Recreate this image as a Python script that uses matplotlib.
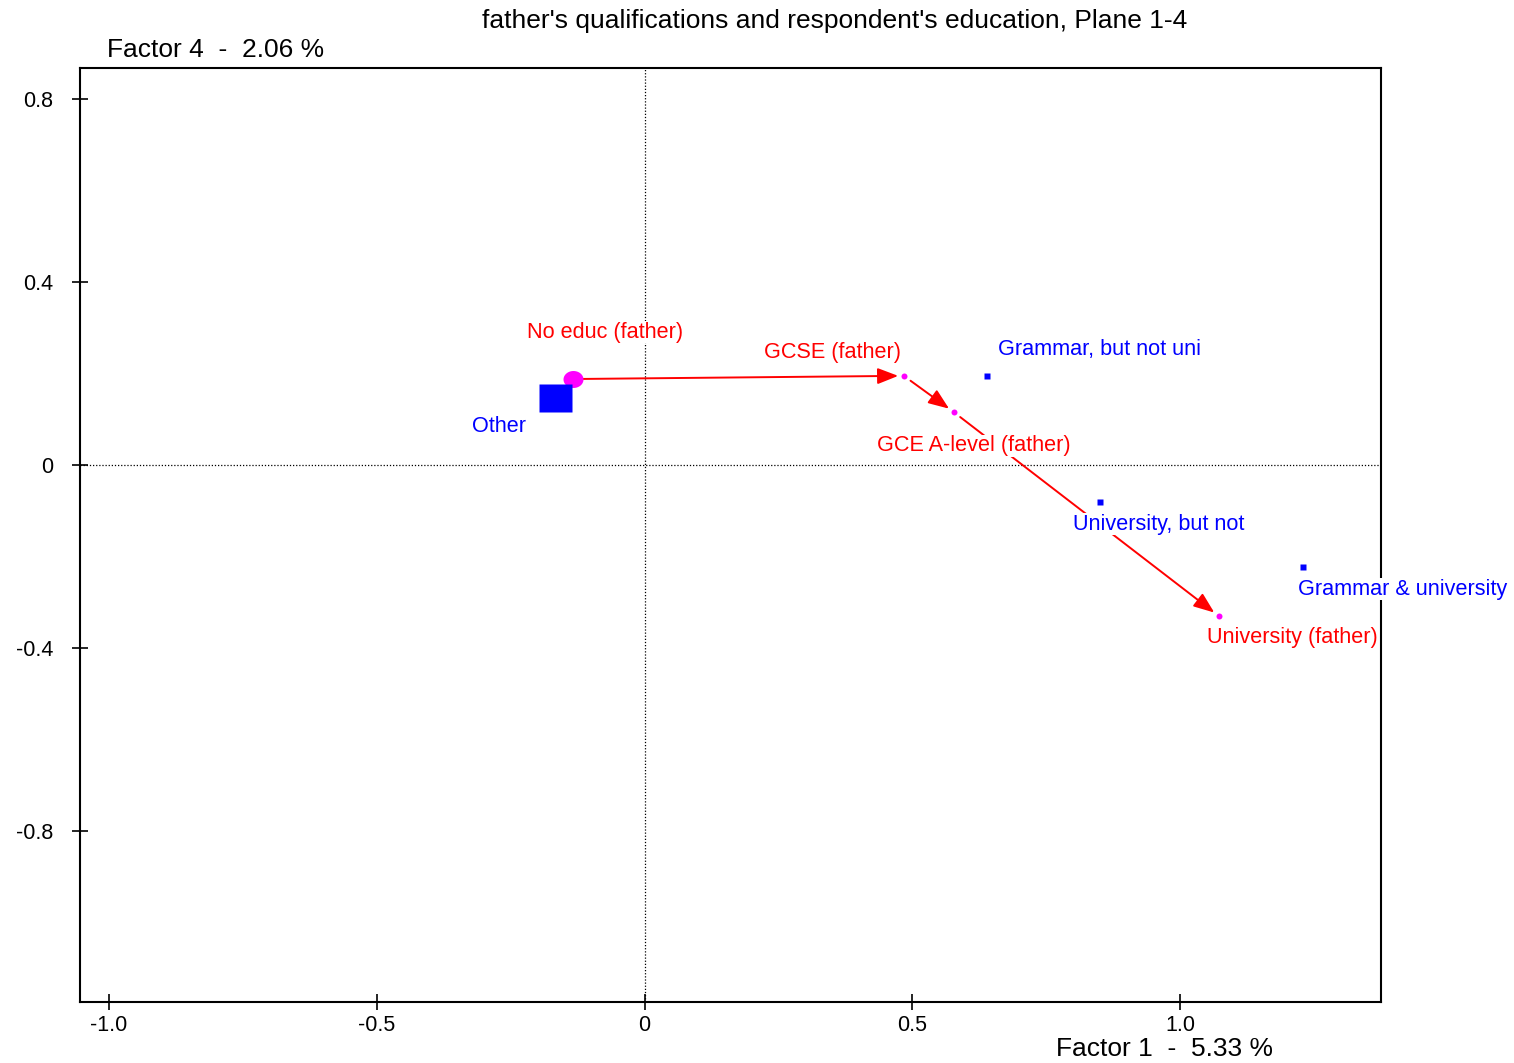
import numpy as np
import matplotlib
matplotlib.use("Agg")
import matplotlib.pyplot as plt

plt.rcParams['font.family'] = ['Liberation Sans', 'DejaVu Sans']

# father's qualifications (active points, joined by the trajectory)
father_labels = ["No educ (father)", "GCSE (father)", "GCE A-level (father)", "University (father)"]
father_f1 = [-0.134, 0.484, 0.577, 1.072]
father_f4 = [0.188, 0.195, 0.116, -0.330]
father_size = [20, 6, 6, 6]          # marker widths, px
father_offset = [(-46, 47), (-140, 23), (-77, -34), (-12, -22)]

# respondent's education
resp_labels = ["Other", "Grammar, but not uni", "University, but not", "Grammar & university"]
resp_f1 = [-0.168, 0.639, 0.850, 1.229]
resp_f4 = [0.146, 0.195, -0.081, -0.223]
resp_size = [33, 6, 6, 6]
resp_offset = [(-83, -28), (11, 26), (-27, -22), (-5, -22)]

xticks = [-1.0, -0.5, 0, 0.5, 1.0]
xtick_labels = ["-1.0", "-0.5", "0", "0.5", "1.0"]
yticks = [0.8, 0.4, 0, -0.4, -0.8]
ytick_labels = ["0.8", "0.4", "0", "-0.4", "-0.8"]

DPI = 100
fig = plt.figure(figsize=(15.14, 10.63), dpi=DPI)
ax = fig.add_axes([80 / 1514, 61 / 1063, 1301 / 1514, 934 / 1063])
ax.set_xlim(-1.054, 1.375)
ax.set_ylim(-1.174, 0.868)

for s in ax.spines.values():
    s.set_linewidth(1.5)

ax.axhline(0, color='black', lw=0.9, ls=(0, (1, 1.5)), zorder=1)
ax.axvline(0, color='black', lw=0.9, ls=(0, (1, 1.5)), zorder=1)

ax.set_xticks(xticks)
ax.set_xticklabels(xtick_labels)
ax.set_yticks(yticks)
ax.set_yticklabels(ytick_labels)
ax.tick_params(direction='inout', length=11, width=1.2, labelsize=15.5)
ax.tick_params(axis='y', pad=14)
ax.tick_params(axis='x', pad=4)

px = 72.0 / DPI  # points per pixel

# ellipse / rectangle marker shapes
t = np.linspace(0, 2 * np.pi, 60)
ellipse = np.column_stack([np.cos(t), 0.85 * np.sin(t)])
rect = [(-1, -0.82), (1, -0.82), (1, 0.82), (-1, 0.82), (-1, -0.82)]

# trajectory arrows between consecutive father categories
for i in range(len(father_f1) - 1):
    ax.annotate("", xy=(father_f1[i + 1], father_f4[i + 1]),
                xytext=(father_f1[i], father_f4[i]),
                arrowprops=dict(arrowstyle='-|>,head_length=0.9,head_width=0.35',
                                color='#ff0000', lw=1.4, mutation_scale=14,
                                shrinkA=6, shrinkB=4),
                zorder=3)

for i in range(len(father_f1)):
    mk = ellipse if i == 0 else 'o'
    ax.plot(father_f1[i], father_f4[i], marker=mk, ms=father_size[i] * px,
            color='#ff00ff', mec='none', ls='none', zorder=4)
    ax.annotate(father_labels[i], (father_f1[i], father_f4[i]),
                xytext=father_offset[i], textcoords='offset pixels',
                ha='left', va='center', color='#ff0000', fontsize=15.6,
                bbox=dict(facecolor='white', edgecolor='none', pad=0.5),
                zorder=5, annotation_clip=False)

for i in range(len(resp_f1)):
    mk = rect if i == 0 else 's'
    ax.plot(resp_f1[i], resp_f4[i], marker=mk, ms=resp_size[i] * px,
            color='#0000ff', mec='none', ls='none', zorder=4)
    ax.annotate(resp_labels[i], (resp_f1[i], resp_f4[i]),
                xytext=resp_offset[i], textcoords='offset pixels',
                ha='left', va='center', color='#0000ff', fontsize=15.6,
                bbox=dict(facecolor='white', edgecolor='none', pad=0.5),
                zorder=5, annotation_clip=False)

fig.text(835 / 1514, 1 - 21 / 1063, "father's qualifications and respondent's education, Plane 1-4",
         ha='center', va='center', fontsize=19)
fig.text(107 / 1514, 1 - 50 / 1063, "Factor 4  -  2.06 %", ha='left', va='center', fontsize=19)
fig.text(1056 / 1514, 1 - 1049 / 1063, "Factor 1  -  5.33 %", ha='left', va='center', fontsize=19)

fig.savefig("out.png", dpi=DPI)
